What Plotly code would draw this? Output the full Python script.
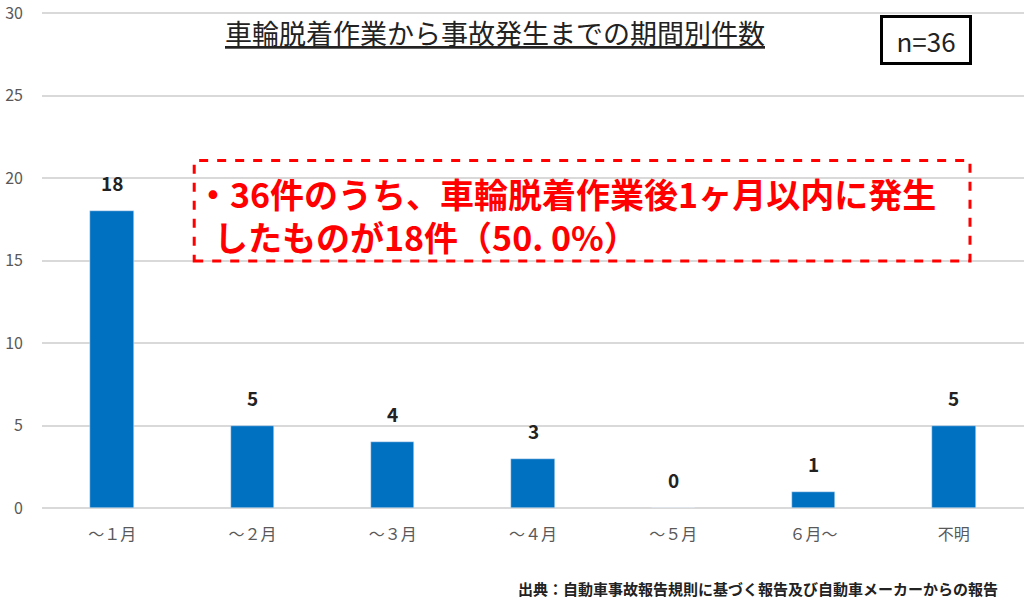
import plotly.graph_objects as go

# data
categories = ["～１月", "～２月", "～３月", "～４月", "～５月", "６月～", "不明"]
counts = [18, 5, 4, 3, 0, 1, 5]
y_ticks = [0, 5, 10, 15, 20, 25, 30]

font_jp = "Noto Sans CJK JP"

fig = go.Figure(go.Bar(
    x=categories,
    y=counts,
    marker_color="#0070C0",
    width=0.31,
))

# value labels above the bars
for c, v in zip(categories, counts):
    fig.add_annotation(
        x=c, y=v, text=str(v), showarrow=False,
        yanchor="bottom", yshift=13,
        font=dict(family=font_jp, size=19, color="#222222", weight="bold"),
    )

fig.update_layout(
    width=1024, height=601,
    margin=dict(l=42, r=0, t=11, b=93),
    plot_bgcolor="white", paper_bgcolor="white",
    showlegend=False,
    bargap=0,
    yaxis=dict(
        range=[0, 30.15], tickvals=y_ticks, showgrid=True,
        gridcolor="#d9d9d9", gridwidth=2, zeroline=True,
        zerolinecolor="#d9d9d9", zerolinewidth=2,
        tickfont=dict(family=font_jp, size=16, color="#595959"),
        ticklabelstandoff=18,
    ),
    xaxis=dict(
        tickfont=dict(family=font_jp, size=16, color="#595959"),
        showline=False, ticks="", ticklabelstandoff=15,
    ),
)

# title
fig.add_annotation(
    text="<u>車輪脱着作業から事故発生までの期間別件数</u>",
    xref="paper", yref="paper", x=0.461, y=0.956, xanchor="center", yanchor="middle",
    showarrow=False, font=dict(family=font_jp, size=27, color="#222222"),
)

# n=36 box
fig.add_annotation(
    text="n=36",
    xref="paper", yref="paper", x=0.9, y=0.941, xanchor="center", yanchor="middle",
    showarrow=False, font=dict(family=font_jp, size=26, color="#222222"),
    bordercolor="black", borderwidth=3, borderpad=4, bgcolor="white",
    width=78, height=36,
)

# red dashed callout
fig.add_shape(
    type="rect", xref="paper", yref="paper",
    x0=0.155, x1=0.945, y0=0.497, y1=0.699,
    line=dict(color="#FF0000", width=3, dash="dash"),
    fillcolor="rgba(0,0,0,0)",
)
red_font = dict(family=font_jp, size=34, color="#FF0000", weight="bold")
fig.add_annotation(
    text="・36件のうち、車輪脱着作業後1ヶ月以内に発生",
    xref="paper", yref="paper", x=0.155, y=0.632, xanchor="left", yanchor="middle",
    showarrow=False, font=red_font,
)
fig.add_annotation(
    text="したものが18件（50. 0%）",
    xref="paper", yref="paper", x=0.173, y=0.547, xanchor="left", yanchor="middle",
    showarrow=False, font=red_font,
)

# source
fig.add_annotation(
    text="出典：自動車事故報告規則に基づく報告及び自動車メーカーからの報告",
    xref="paper", yref="paper", x=0.9756, y=-0.1616, xanchor="right", yanchor="middle",
    showarrow=False, font=dict(family=font_jp, size=15, color="#222222", weight="bold"),
)

# drop the default page margin so the figure sits at the top-left corner
fig.write_html("out.html", config={"displayModeBar": False},
               post_script="document.body.style.margin='0';")
